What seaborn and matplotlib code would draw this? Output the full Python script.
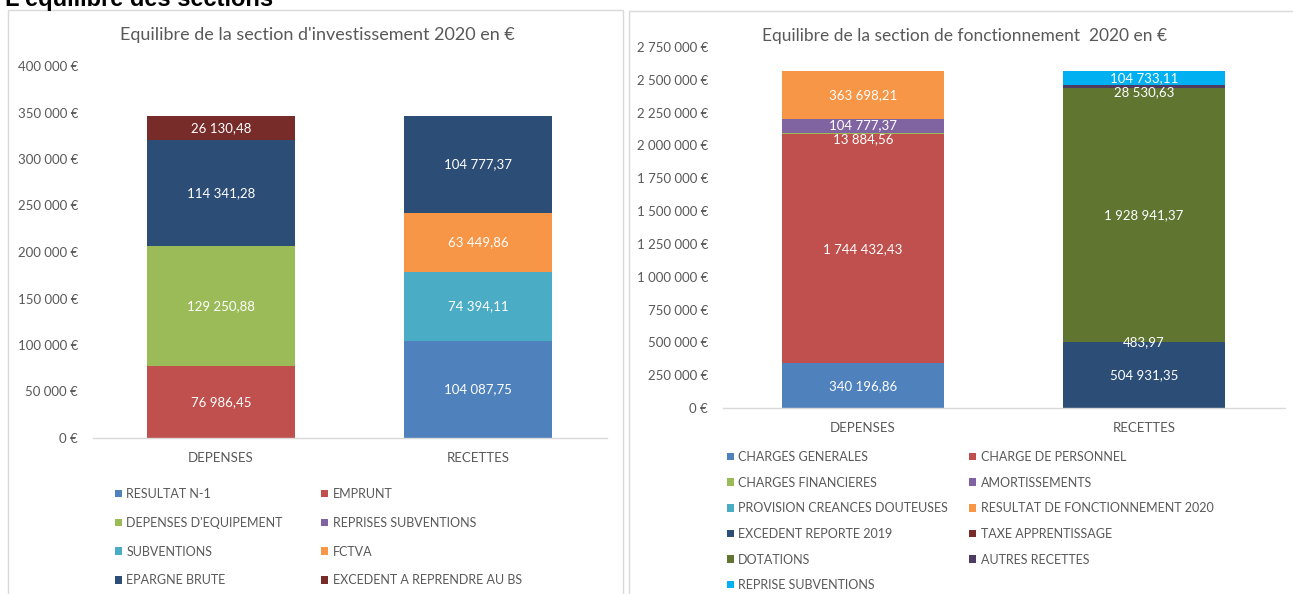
import pandas as pd
import matplotlib
matplotlib.use("Agg")
import matplotlib.pyplot as plt
import matplotlib.ticker as mticker
from matplotlib.patches import Patch, Rectangle
import seaborn as sns

# ─────────────────────────────────────────
# DATA
# ─────────────────────────────────────────

categories = ["DEPENSES", "RECETTES"]

inv_series = ["RESULTAT N-1", "EMPRUNT", "DEPENSES D'EQUIPEMENT",
              "REPRISES SUBVENTIONS", "SUBVENTIONS", "FCTVA",
              "EPARGNE BRUTE", "EXCEDENT A REPRENDRE AU BS"]
inv_depenses = [0, 76986.45, 129250.88, 0, 0, 0, 114341.28, 26130.48]
inv_recettes = [104087.75, 0, 0, 0, 74394.11, 63449.86, 104777.37, 0]
inv_colors = ["#4F81BD", "#C0504D", "#9BBB59", "#8064A2",
              "#4BACC6", "#F79646", "#2C4D75", "#772C2A"]

fon_series = ["CHARGES GENERALES", "CHARGE DE PERSONNEL", "CHARGES FINANCIERES",
              "AMORTISSEMENTS", "PROVISION CREANCES DOUTEUSES",
              "RESULTAT DE FONCTIONNEMENT 2020", "EXCEDENT REPORTE 2019",
              "TAXE APPRENTISSAGE", "DOTATIONS", "AUTRES RECETTES",
              "REPRISE SUBVENTIONS"]
fon_depenses = [340196.86, 1744432.43, 13884.56, 104777.37, 0, 363698.21,
                0, 0, 0, 0, 0]
fon_recettes = [0, 0, 0, 0, 0, 0, 504931.35, 483.97, 1928941.37,
                28530.63, 104733.11]
fon_colors = ["#4F81BD", "#C0504D", "#9BBB59", "#8064A2", "#4BACC6",
              "#F79646", "#2C4D75", "#772C2A", "#5F7530", "#4D3B62",
              "#00B0F0"]

inv_ticks = [0, 50000, 100000, 150000, 200000, 250000, 300000, 350000, 400000]
fon_ticks = [0, 250000, 500000, 750000, 1000000, 1250000, 1500000, 1750000,
             2000000, 2250000, 2500000, 2750000]

# ─────────────────────────────────────────
# STYLE
# ─────────────────────────────────────────

sns.set_theme(style="white")
plt.rcParams["font.family"] = ["Lato", "DejaVu Sans"]
GREY = "#595959"
W, H = 1293, 594


def fmt_axis(v, pos=None):
    return f"{int(round(v)):,}".replace(",", " ") + " €"


def fmt_label(v):
    return f"{v:,.2f}".replace(",", " ").replace(".", ",")


def draw_stack(ax, series, dep, rec, colors, yticks, shrink, shifts):
    df = pd.DataFrame({
        "categorie": [categories[0]] * len(series) + [categories[1]] * len(series),
        "serie": series * 2,
        "montant": dep + rec,
    })
    sns.histplot(data=df, x="categorie", hue="serie", weights="montant",
                 multiple="stack", discrete=True, shrink=shrink,
                 hue_order=series[::-1], palette=dict(zip(series, colors)),
                 alpha=1, linewidth=0, edgecolor="none", legend=False, ax=ax)

    # value labels centred in each segment
    for i, vals in enumerate([dep, rec]):
        bottom = 0
        for name, v in zip(series, vals):
            if v > 0:
                ax.annotate(fmt_label(v), (i, bottom + v / 2),
                            xytext=(0, shifts.get(name, 0)),
                            textcoords="offset points",
                            ha="center", va="center", color="white",
                            fontsize=9.5)
            bottom += v

    ax.set_xlim(-0.5, 1.5)
    ax.set_ylim(0, yticks[-1])
    ax.set_yticks(yticks)
    ax.yaxis.set_major_formatter(mticker.FuncFormatter(fmt_axis))
    ax.set_xticks([0, 1])
    ax.set_xticklabels(categories)
    ax.set_xlabel("")
    ax.set_ylabel("")
    ax.tick_params(axis="y", length=0, pad=10.5, labelsize=9.5, labelcolor=GREY)
    ax.tick_params(axis="x", length=0, pad=10, labelsize=9.5, labelcolor=GREY)
    for side in ["top", "left", "right"]:
        ax.spines[side].set_visible(False)
    ax.spines["bottom"].set_color("#D9D9D9")
    ax.spines["bottom"].set_linewidth(1)
    ax.grid(False)


def row_order(items, ncol=2):
    rows = [items[i::ncol] for i in range(ncol)]
    return [x for col in rows for x in col]


fig = plt.figure(figsize=(W / 100, H / 100), dpi=100)
fig.patch.set_facecolor("white")

# panel borders
fig.add_artist(Rectangle((8 / W, -0.05), 615 / W, 1.05 - 10 / H,
                         transform=fig.transFigure, fill=False,
                         ec="#D9D9D9", lw=1))
fig.add_artist(Rectangle((629 / W, -0.05), 700 / W, 1.05 - 11 / H,
                         transform=fig.transFigure, fill=False,
                         ec="#D9D9D9", lw=1))

# page heading, cut off at the top as in the screenshot
fig.text(5 / W, 1 - 6 / H, "L'équilibre des sections", fontsize=17,
         fontweight="bold", family=["Liberation Sans", "DejaVu Sans"],
         color="black", va="baseline", ha="left")

# ─────────────────────────────────────────
# CHART 1: section d'investissement
# ─────────────────────────────────────────

ax1 = fig.add_axes([92.5 / W, (H - 438) / H, 514 / W, 372 / H])
draw_stack(ax1, inv_series, inv_depenses, inv_recettes, inv_colors,
           inv_ticks, 0.576, {})
fig.text(317 / W, 1 - 35 / H, "Equilibre de la section d'investissement 2020 en €",
         ha="center", va="center", fontsize=13, color=GREY)

h1 = [Patch(facecolor=c, edgecolor="none") for c in inv_colors]
fig.legend(row_order(h1), row_order(inv_series), loc="upper left",
           bbox_to_anchor=(115 / W, 1 - 488 / H), ncol=2, frameon=False,
           fontsize=9, labelcolor=GREY, handlelength=0.55, handleheight=0.55,
           handletextpad=0.35, labelspacing=1.34, columnspacing=3.1,
           borderpad=0, borderaxespad=0)

# ─────────────────────────────────────────
# CHART 2: section de fonctionnement
# ─────────────────────────────────────────

ax2 = fig.add_axes([722.5 / W, (H - 408) / H, 562 / W, 361 / H])
draw_stack(ax2, fon_series, fon_depenses, fon_recettes, fon_colors,
           fon_ticks, 0.576, {"CHARGES FINANCIERES": -4, "AUTRES RECETTES": -4})
fig.text(965 / W, 1 - 36 / H, "Equilibre de la section de fonctionnement  2020 en €",
         ha="center", va="center", fontsize=12.5, color=GREY)

h2 = [Patch(facecolor=c, edgecolor="none") for c in fon_colors]
fig.legend(row_order(h2), row_order(fon_series), loc="upper left",
           bbox_to_anchor=(727 / W, 1 - 451 / H), ncol=2, frameon=False,
           fontsize=9, labelcolor=GREY, handlelength=0.55, handleheight=0.55,
           handletextpad=0.35, labelspacing=1.09, columnspacing=1.7,
           borderpad=0, borderaxespad=0)

plt.savefig("out.png", dpi=100)
plt.close()
